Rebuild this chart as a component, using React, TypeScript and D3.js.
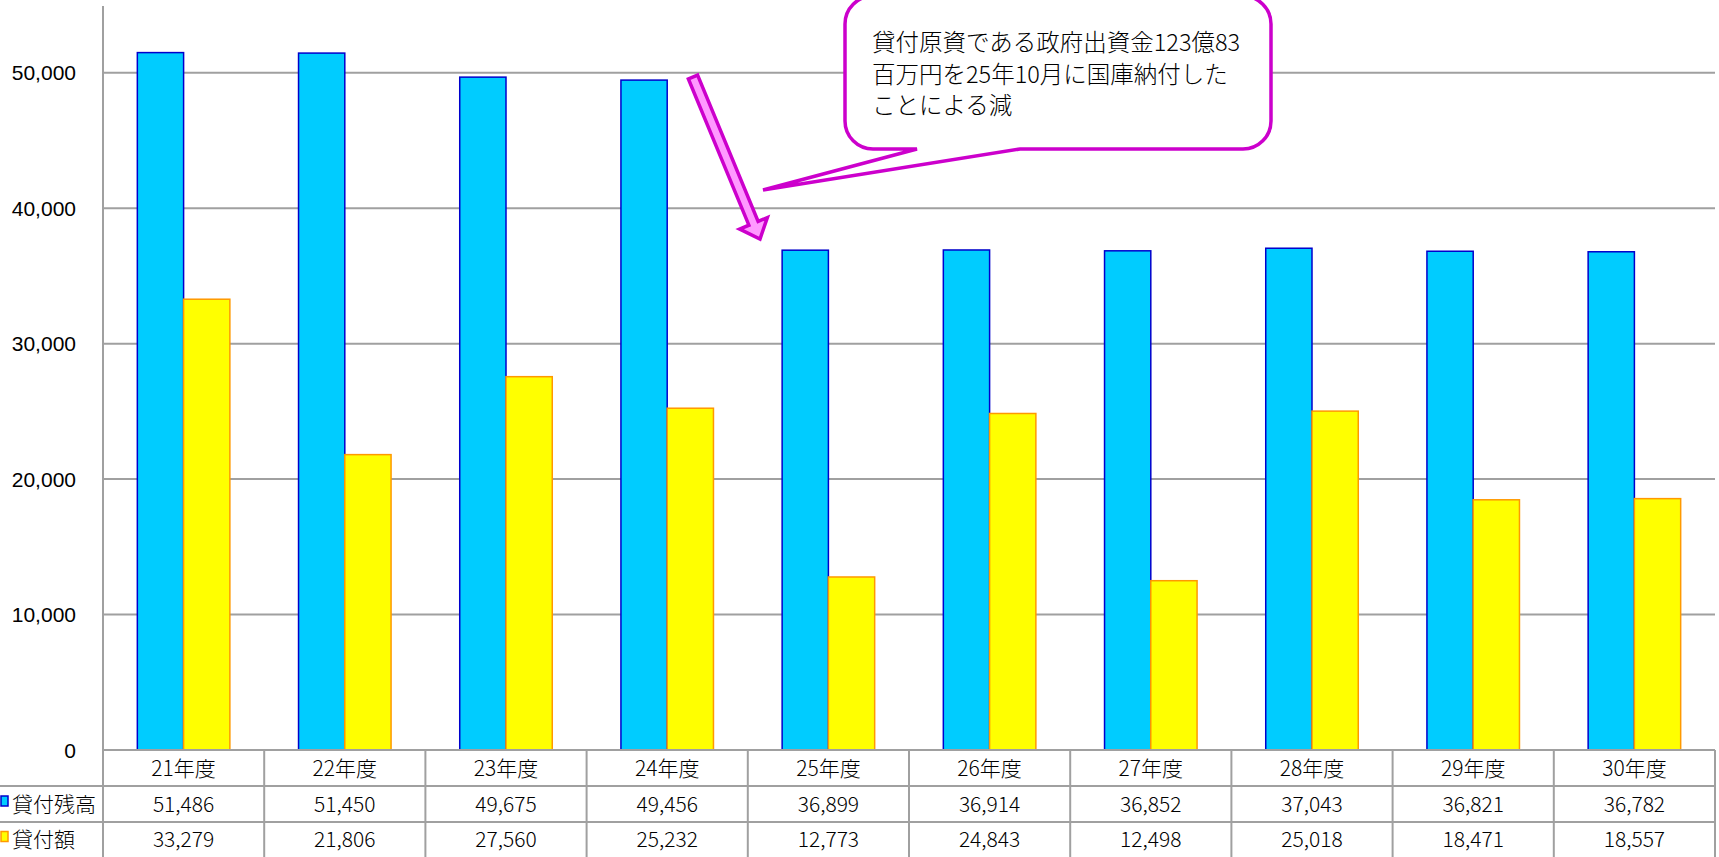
import * as d3 from "d3";

const categories = ["21年度", "22年度", "23年度", "24年度", "25年度", "26年度", "27年度", "28年度", "29年度", "30年度"];
const balance = [51486, 51450, 49675, 49456, 36899, 36914, 36852, 37043, 36821, 36782];
const loans = [33279, 21806, 27560, 25232, 12773, 24843, 12498, 25018, 18471, 18557];
const seriesNames = ["貸付残高", "貸付額"];
const yTicks = [0, 10000, 20000, 30000, 40000, 50000];
const calloutLines = [
  "貸付原資である政府出資金123億83",
  "百万円を25年10月に国庫納付した",
  "ことによる減",
];

const W = 1719;
const H = 857;
const PLOT = { left: 103, right: 1715, top: 5, bottom: 750 };
const ROW_H = 36;
const GRID = "#a0a0a0";
const CJK = "'Noto Sans CJK JP', sans-serif";
const COLORS = [
  { fill: "#00ccff", stroke: "#0000cc" },
  { fill: "#ffff00", stroke: "#ff9900" },
];

export default function App() {
  const values = [balance, loans];
  const x0 = d3.scaleBand<string>().domain(categories).range([PLOT.left, PLOT.right]).padding(0);
  const step = x0.bandwidth();
  const x1 = d3.scaleBand<number>().domain([0, 1]).range([step * 0.213, step * 0.787]).padding(0);
  const y = d3.scaleLinear().domain([0, 55000]).range([PLOT.bottom, PLOT.top]);
  const fmt = d3.format(",");

  // callout balloon (annotation geometry)
  const bx0 = 845, bx1 = 1271, by0 = -4, by1 = 149, r = 28;
  const tip: [number, number] = [763, 190];
  const balloon =
    `M${bx0 + r},${by0} H${bx1 - r} A${r},${r} 0 0 1 ${bx1},${by0 + r} V${by1 - r} ` +
    `A${r},${r} 0 0 1 ${bx1 - r},${by1} H1020 L${tip[0]},${tip[1]} L917,${by1} H${bx0 + r} ` +
    `A${r},${r} 0 0 1 ${bx0},${by1 - r} V${by0 + r} A${r},${r} 0 0 1 ${bx0 + r},${by0} Z`;

  // block arrow
  const T = [693, 77], P = [760, 239];
  const len = Math.hypot(P[0] - T[0], P[1] - T[1]);
  const u = [(P[0] - T[0]) / len, (P[1] - T[1]) / len];
  const n = [u[1], -u[0]];
  const B = [P[0] - u[0] * 17, P[1] - u[1] * 17];
  const pt = (p: number[], k: number) => `${p[0] + n[0] * k},${p[1] + n[1] * k}`;
  const arrow = [pt(T, 5), pt(B, 5), pt(B, 15), `${P[0]},${P[1]}`, pt(B, -15), pt(B, -5), pt(T, -5)].join(" ");

  const rowY = [PLOT.bottom, PLOT.bottom + ROW_H, PLOT.bottom + ROW_H * 2, H];

  return (
    <svg width={W} height={H} style={{ display: "block", background: "#fff" }}>
      <style>{`body{margin:0}`}</style>

      {/* gridlines */}
      {yTicks.filter((t) => t > 0).map((t) => (
        <line key={t} x1={PLOT.left} x2={PLOT.right} y1={y(t)} y2={y(t)} stroke={GRID} strokeWidth={2} />
      ))}

      {/* y labels */}
      {yTicks.map((t) => (
        <text key={`l${t}`} x={76} y={y(t)} dy="0.36em" textAnchor="end"
          fontSize={21} fontFamily="'Liberation Sans', Arial, sans-serif" fill="#000">
          {fmt(t)}
        </text>
      ))}

      {/* bars */}
      {categories.map((c, i) => (
        <g key={c} transform={`translate(${x0(c)},0)`}>
          {values.map((vals, s) => (
            <rect key={s} x={x1(s)} y={y(vals[i])} width={x1.bandwidth()} height={y(0) - y(vals[i])}
              fill={COLORS[s].fill} stroke={COLORS[s].stroke} strokeWidth={1.5} />
          ))}
        </g>
      ))}

      {/* data table */}
      <line x1={PLOT.left} x2={PLOT.right} y1={rowY[0]} y2={rowY[0]} stroke={GRID} strokeWidth={2} />
      <line x1={0} x2={PLOT.right} y1={rowY[1]} y2={rowY[1]} stroke={GRID} strokeWidth={2} />
      <line x1={0} x2={PLOT.right} y1={rowY[2]} y2={rowY[2]} stroke={GRID} strokeWidth={2} />
      <line x1={PLOT.left} x2={PLOT.left} y1={6} y2={H} stroke={GRID} strokeWidth={2} />
      {categories.map((c) => (
        <line key={`v${c}`} x1={(x0(c) ?? 0) + step} x2={(x0(c) ?? 0) + step} y1={rowY[0]} y2={H}
          stroke={GRID} strokeWidth={2} />
      ))}
      {categories.map((c, i) => {
        const cx = (x0(c) ?? 0) + step / 2;
        return (
          <g key={`t${c}`} fontSize={21} fontWeight={300} fontFamily={CJK} fill="#000" textAnchor="middle">
            <text x={cx} y={(rowY[0] + rowY[1]) / 2} dy="0.36em">{c}</text>
            <text x={cx} y={(rowY[1] + rowY[2]) / 2} dy="0.36em">{fmt(balance[i])}</text>
            <text x={cx} y={(rowY[2] + rowY[3]) / 2} dy="0.36em">{fmt(loans[i])}</text>
          </g>
        );
      })}
      {seriesNames.map((name, s) => {
        const cy = (rowY[s + 1] + rowY[s + 2]) / 2;
        return (
          <g key={name}>
            <rect x={1} y={cy - 8} width={7} height={10} fill={COLORS[s].fill} stroke={COLORS[s].stroke} strokeWidth={1.5} />
            <text x={12} y={cy} dy="0.36em" fontSize={21} fontWeight={300} fontFamily={CJK} fill="#000">{name}</text>
          </g>
        );
      })}

      {/* annotation */}
      <path d={balloon} fill="#fff" stroke="#cc00cc" strokeWidth={3.5} strokeLinejoin="miter" />
      {calloutLines.map((line, i) => (
        <text key={i} x={872} y={51 + i * 31.5} fontSize={23.5} fontWeight={300} fontFamily={CJK} fill="#000">{line}</text>
      ))}
      <polygon points={arrow} fill="#ff99ff" stroke="#cc00cc" strokeWidth={3.5} strokeLinejoin="miter" />
    </svg>
  );
}
